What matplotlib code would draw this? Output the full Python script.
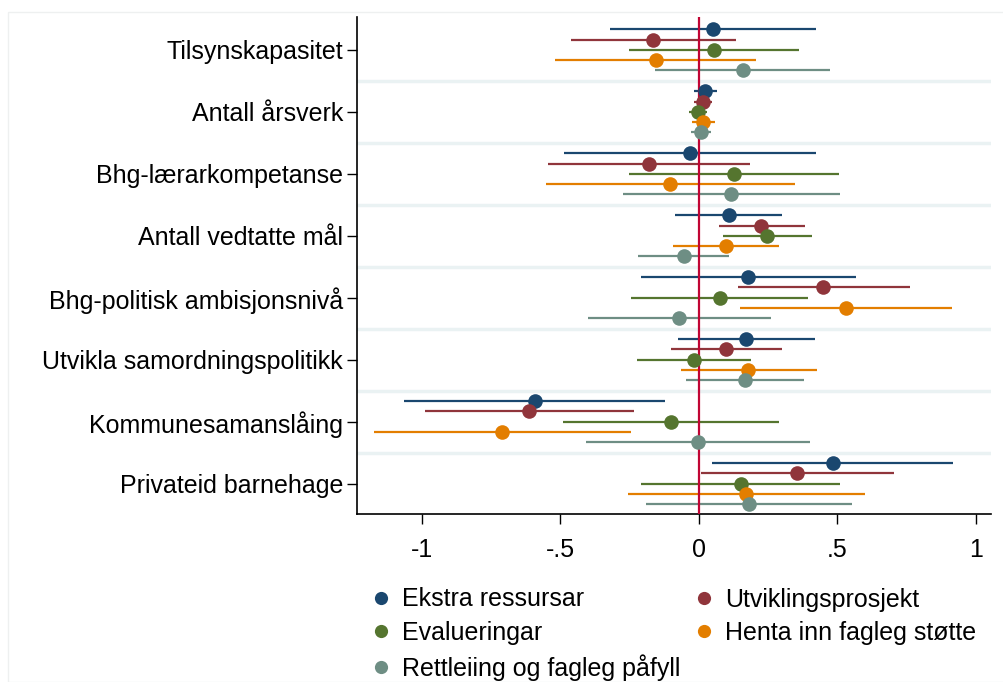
import matplotlib.pyplot as plt
import numpy as np
from matplotlib.lines import Line2D
from matplotlib.patches import Rectangle

plt.rcParams['font.family'] = ['Liberation Sans', 'DejaVu Sans']

categories = ["Tilsynskapasitet", "Antall årsverk", "Bhg-lærarkompetanse",
              "Antall vedtatte mål", "Bhg-politisk ambisjonsnivå",
              "Utvikla samordningspolitikk", "Kommunesamanslåing",
              "Privateid barnehage"]

series = ["Ekstra ressursar", "Utviklingsprosjekt", "Evalueringar",
          "Henta inn fagleg støtte", "Rettleiing og fagleg påfyll"]
colors = ["#1a476f", "#90353b", "#55752f", "#e37e00", "#6e8e84"]

# point estimates per series (order follows categories)
est_ekstra = [0.050, 0.023, -0.032, 0.108, 0.178, 0.172, -0.592, 0.483]
est_utvikl = [-0.166, 0.014, -0.179, 0.226, 0.450, 0.099, -0.612, 0.355]
est_evalu = [0.055, -0.003, 0.126, 0.248, 0.076, -0.018, -0.102, 0.152]
est_henta = [-0.156, 0.017, -0.103, 0.097, 0.530, 0.178, -0.711, 0.172]
est_rettl = [0.159, 0.008, 0.118, -0.055, -0.070, 0.166, -0.003, 0.181]

# lower / upper confidence limits
lo_ekstra = [-0.319, -0.017, -0.487, -0.085, -0.208, -0.076, -1.063, 0.049]
hi_ekstra = [0.422, 0.064, 0.424, 0.302, 0.566, 0.421, -0.121, 0.917]
lo_utvikl = [-0.460, -0.017, -0.545, 0.073, 0.140, -0.100, -0.989, 0.009]
hi_utvikl = [0.134, 0.047, 0.185, 0.384, 0.762, 0.299, -0.234, 0.705]
lo_evalu = [-0.252, -0.035, -0.252, 0.087, -0.246, -0.223, -0.492, -0.208]
hi_evalu = [0.361, 0.030, 0.507, 0.408, 0.396, 0.188, 0.289, 0.510]
lo_henta = [-0.519, -0.024, -0.551, -0.093, 0.150, -0.065, -1.174, -0.255]
hi_henta = [0.208, 0.058, 0.348, 0.289, 0.913, 0.425, -0.246, 0.600]
lo_rettl = [-0.158, -0.027, -0.273, -0.220, -0.401, -0.047, -0.407, -0.191]
hi_rettl = [0.474, 0.043, 0.510, 0.109, 0.261, 0.380, 0.402, 0.553]

estimates = [est_ekstra, est_utvikl, est_evalu, est_henta, est_rettl]
lowers = [lo_ekstra, lo_utvikl, lo_evalu, lo_henta, lo_rettl]
uppers = [hi_ekstra, hi_utvikl, hi_evalu, hi_henta, hi_rettl]

xticks = [-1, -0.5, 0, 0.5, 1]
xticklabels = ["-1", "-.5", "0", ".5", "1"]

fig = plt.figure(figsize=(10.04, 6.82), dpi=100)
fig.patches.append(Rectangle((8 / 1004, 0), 1, 1 - 12 / 682, transform=fig.transFigure,
                             fill=False, edgecolor="#eef0f0", linewidth=1))
ax = fig.add_axes([357 / 1004, 1 - 514 / 682, (991 - 357) / 1004, (514 - 17) / 682])

ypos = np.arange(1, len(categories) + 1)
offsets = np.linspace(-0.33, 0.33, len(series))

for b in np.arange(1.5, len(categories), 1.0):
    ax.axhline(b, color="#eaf2f3", linewidth=2.5, zorder=1)

ax.axvline(0, color="#c10534", linewidth=1.6, zorder=3)

for est, lo, hi, col, off in zip(estimates, lowers, uppers, colors, offsets):
    y = ypos + off
    ax.hlines(y, lo, hi, color=col, linewidth=1.6, zorder=2)
    ax.plot(est, y, "o", color=col, markersize=10.5, markeredgewidth=0, zorder=4)

ax.set_ylim(8.49, 0.47)
ax.set_xlim(-1.234, 1.055)
ax.set_yticks(ypos, categories)
ax.set_xticks(xticks, xticklabels)
ax.tick_params(axis="both", labelsize=18, length=7, width=1, direction="out")
ax.tick_params(axis="y", pad=3)
ax.tick_params(axis="x", pad=10)
for s in ["top", "right"]:
    ax.spines[s].set_visible(False)
for s in ["left", "bottom"]:
    ax.spines[s].set_linewidth(1.2)

handles = [Line2D([], [], marker="o", linestyle="none", color=c,
                  markersize=9.5, markeredgewidth=0) for c in colors]
order = [0, 2, 4, 1, 3]
fig.legend([handles[i] for i in order], [series[i] for i in order],
           ncol=2, loc="upper left", bbox_to_anchor=(358 / 1004, 1 - 575 / 682),
           frameon=False, fontsize=18, handlelength=0.8, handletextpad=0.45,
           columnspacing=0.55, labelspacing=0.38, borderpad=0)

fig.savefig("out.png", dpi=100, facecolor="white")
